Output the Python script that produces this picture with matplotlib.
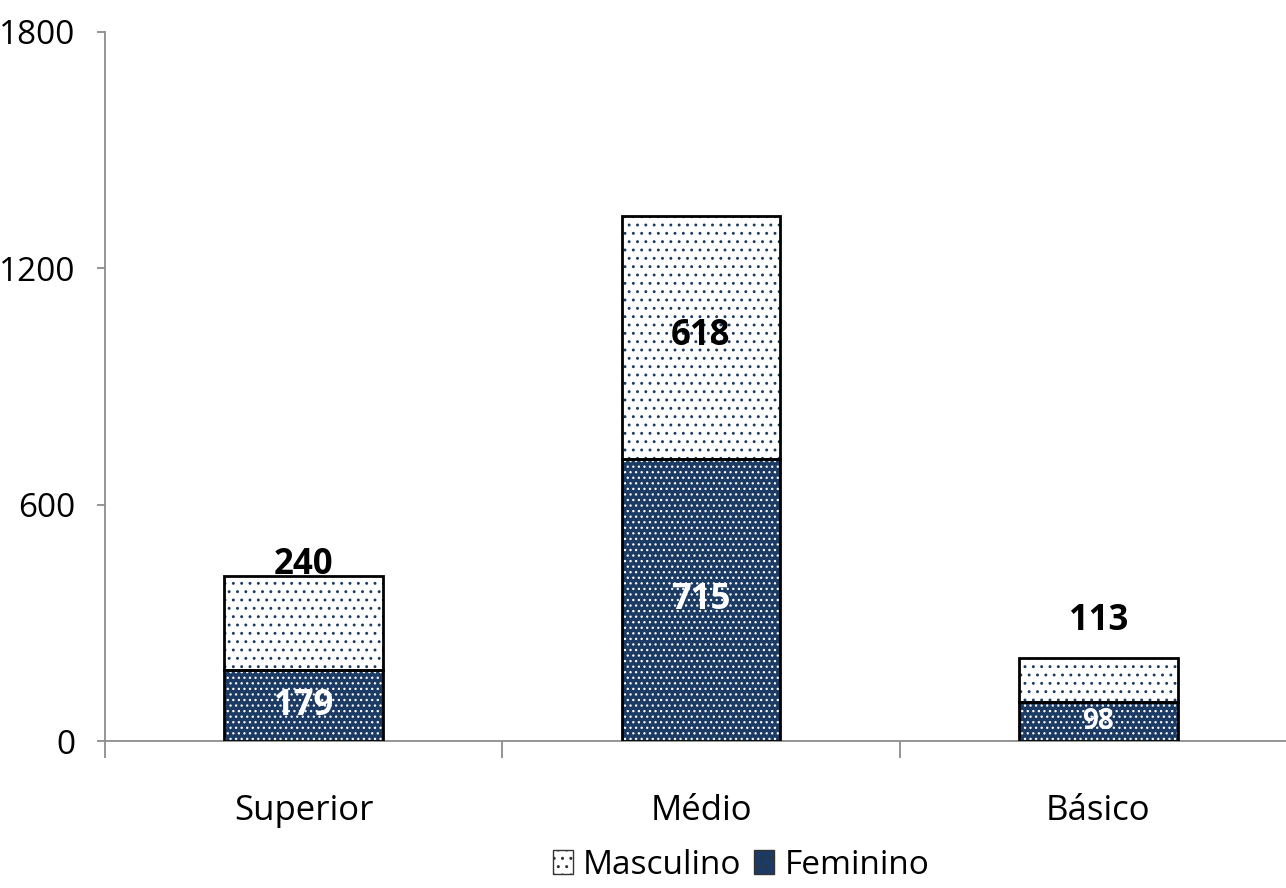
import matplotlib
matplotlib.use("Agg")
import matplotlib.pyplot as plt
from matplotlib import font_manager
from matplotlib.patches import Patch

# Data
categories = ["Superior", "Médio", "Básico"]
feminino = [179, 715, 98]
masculino = [240, 618, 113]
y_ticks = [0, 600, 1200, 1800]
series_names = ["Masculino", "Feminino"]

available = {f.name for f in font_manager.fontManager.ttflist}
family = [f for f in ["Liberation Sans Narrow", "Open Sans", "DejaVu Sans"] if f in available]
plt.rcParams["font.family"] = family

navy = "#1b3a64"
axis_gray = "#8c8c8c"

W, H = 1286, 888
fig = plt.figure(figsize=(W / 100, H / 100), dpi=100)
ax = fig.add_axes([105 / W, 147 / H, 1192 / W, 709 / H])

x = list(range(len(categories)))
bw = 0.4

# Feminino (bottom): navy fill with white dots
plt.rcParams["hatch.linewidth"] = 0.9
ax.bar(x, feminino, bw, color=navy, edgecolor="white", linewidth=0, hatch="...", zorder=2)
ax.bar(x, feminino, bw, facecolor="none", edgecolor="black", linewidth=2.0, zorder=3)
# Masculino (top): white fill with navy dots
plt.rcParams["hatch.linewidth"] = 0.9
ax.bar(x, masculino, bw, bottom=feminino, color="white", edgecolor=navy,
       linewidth=0, hatch="..", zorder=2)
ax.bar(x, masculino, bw, bottom=feminino, facecolor="none", edgecolor="black",
       linewidth=2.0, zorder=3)

# Value labels
lab_fs = 25
for i in range(len(categories)):
    f, m = feminino[i], masculino[i]
    fs = lab_fs if f > 150 else 20
    ax.text(i, f / 2, str(f), ha="center", va="center", color="white",
            fontsize=fs, fontweight="bold", zorder=4)
    if m > 400:
        ax.text(i, f + m / 2 + 5, str(m), ha="center", va="center", color="black",
                fontsize=lab_fs, fontweight="bold", zorder=4)
    else:
        off = 28 if i == 0 else 93
        ax.text(i, f + m + off, str(m), ha="center", va="center", color="black",
                fontsize=lab_fs, fontweight="bold", zorder=4)

ax.set_xlim(-0.5, 2.5)
ax.set_ylim(0, 1800)
ax.set_yticks(y_ticks)
ax.set_yticklabels([str(v) for v in y_ticks])
ax.set_xticks(x)
ax.set_xticklabels(categories)
ax.set_xticks([-0.5, 0.5, 1.5, 2.5], minor=True)

for s in ["top", "right"]:
    ax.spines[s].set_visible(False)
for s in ["left", "bottom"]:
    ax.spines[s].set_color(axis_gray)
    ax.spines[s].set_linewidth(1.3)

ax.tick_params(axis="y", length=6, width=1.3, color=axis_gray, pad=15, labelsize=24)
ax.tick_params(axis="x", which="major", length=0, pad=38, labelsize=25)
ax.tick_params(axis="x", which="minor", length=12, width=1.3, color=axis_gray)

plt.rcParams["hatch.linewidth"] = 1.0
handles = [
    Patch(facecolor="white", edgecolor=navy, hatch="..", linewidth=1.0),
    Patch(facecolor=navy, edgecolor="white", hatch="..", linewidth=1.0),
]
leg = fig.legend(handles, series_names, loc="center", bbox_to_anchor=(741 / W, 1 - 865 / H),
                 ncol=2, frameon=False, fontsize=24, handlelength=0.6, handleheight=0.75,
                 handletextpad=0.3, columnspacing=0.4, borderpad=0)
for h in leg.legend_handles:
    h.set_edgecolor("#333333")

fig.savefig("out.png", dpi=100)
